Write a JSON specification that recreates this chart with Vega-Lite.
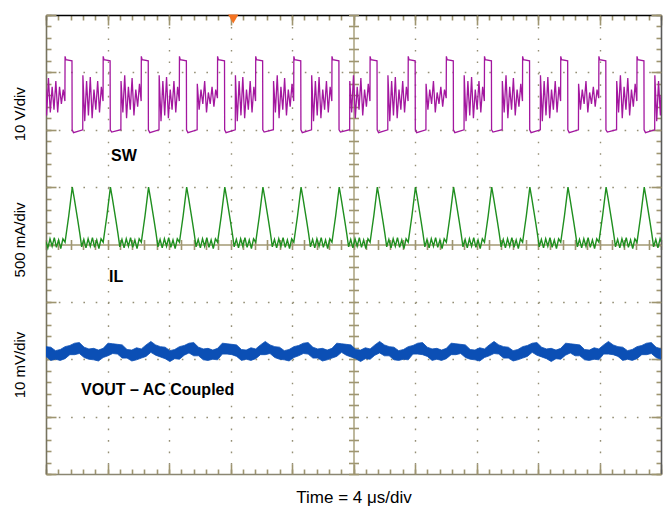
{
"$schema": "https://vega.github.io/schema/vega-lite/v6.json",
"width": 615, "height": 459,
"autosize": "none",
"padding": {"left": 46, "top": 15, "right": 5, "bottom": 38},
"background": "white",
"config": {"view": {"stroke": null}, "font": "Liberation Sans"},
"datasets": {
"sw": [
{"t":0,"v":6.7},{"t":0.04,"v":6.25},{"t":0.16,"v":6.9},{"t":0.28,"v":6.3},{"t":0.40,"v":6.75},{"t":0.52,"v":6.35},{"t":0.64,"v":6.85},{"t":0.76,"v":6.3},{"t":0.88,"v":6.75},{"t":1.00,"v":6.45},{"t":1.12,"v":6.7},{"t":1.23,"v":6.5},
{"t":1.24,"v":7.28},{"t":1.29,"v":7.22},{"t":1.69,"v":7.2},{"t":1.70,"v":6.0},{"t":1.79,"v":5.95},{"t":2.39,"v":6.0},{"t":2.40,"v":6.95},{"t":2.52,"v":6.15},{"t":2.64,"v":6.85},{"t":2.76,"v":6.25},{"t":2.88,"v":6.92},{"t":3.00,"v":6.2},{"t":3.12,"v":6.7},{"t":3.24,"v":6.35},{"t":3.36,"v":6.85},{"t":3.48,"v":6.3},{"t":3.60,"v":6.75},{"t":3.71,"v":6.5},
{"t":3.72,"v":7.28},{"t":3.77,"v":7.22},{"t":4.17,"v":7.2},{"t":4.18,"v":6.0},{"t":4.27,"v":5.96},{"t":4.87,"v":6.0},{"t":4.88,"v":6.85},{"t":5.00,"v":6.3},{"t":5.12,"v":6.95},{"t":5.24,"v":6.2},{"t":5.36,"v":6.75},{"t":5.48,"v":6.35},{"t":5.60,"v":6.9},{"t":5.72,"v":6.25},{"t":5.84,"v":6.7},{"t":5.96,"v":6.4},{"t":6.08,"v":6.8},{"t":6.19,"v":6.5},
{"t":6.20,"v":7.28},{"t":6.25,"v":7.22},{"t":6.65,"v":7.2},{"t":6.66,"v":6.0},{"t":6.75,"v":5.95},{"t":7.35,"v":6.0},{"t":7.36,"v":6.95},{"t":7.48,"v":6.15},{"t":7.60,"v":6.85},{"t":7.72,"v":6.25},{"t":7.84,"v":6.92},{"t":7.96,"v":6.2},{"t":8.08,"v":6.7},{"t":8.20,"v":6.35},{"t":8.32,"v":6.85},{"t":8.44,"v":6.3},{"t":8.56,"v":6.75},{"t":8.67,"v":6.5},
{"t":8.68,"v":7.28},{"t":8.73,"v":7.22},{"t":9.13,"v":7.2},{"t":9.14,"v":6.0},{"t":9.23,"v":5.95},{"t":9.83,"v":6.0},{"t":9.84,"v":6.8},{"t":9.96,"v":6.35},{"t":10.08,"v":6.7},{"t":10.20,"v":6.45},{"t":10.32,"v":6.85},{"t":10.44,"v":6.3},{"t":10.56,"v":6.65},{"t":10.68,"v":6.45},{"t":10.80,"v":6.75},{"t":10.92,"v":6.4},{"t":11.04,"v":6.7},{"t":11.15,"v":6.55},
{"t":11.16,"v":7.28},{"t":11.21,"v":7.22},{"t":11.61,"v":7.2},{"t":11.62,"v":6.0},{"t":11.71,"v":5.95},{"t":12.31,"v":6.0},{"t":12.32,"v":6.95},{"t":12.44,"v":6.15},{"t":12.56,"v":6.85},{"t":12.68,"v":6.25},{"t":12.80,"v":6.92},{"t":12.92,"v":6.2},{"t":13.04,"v":6.7},{"t":13.16,"v":6.35},{"t":13.28,"v":6.85},{"t":13.40,"v":6.3},{"t":13.52,"v":6.75},{"t":13.63,"v":6.5},
{"t":13.64,"v":7.28},{"t":13.69,"v":7.22},{"t":14.09,"v":7.2},{"t":14.10,"v":6.0},{"t":14.19,"v":5.96},{"t":14.79,"v":6.0},{"t":14.80,"v":6.85},{"t":14.92,"v":6.3},{"t":15.04,"v":6.95},{"t":15.16,"v":6.2},{"t":15.28,"v":6.75},{"t":15.40,"v":6.35},{"t":15.52,"v":6.9},{"t":15.64,"v":6.25},{"t":15.76,"v":6.7},{"t":15.88,"v":6.4},{"t":16.00,"v":6.8},{"t":16.11,"v":6.5},
{"t":16.12,"v":7.28},{"t":16.17,"v":7.22},{"t":16.57,"v":7.2},{"t":16.58,"v":6.0},{"t":16.67,"v":5.95},{"t":17.27,"v":6.0},{"t":17.28,"v":6.95},{"t":17.40,"v":6.15},{"t":17.52,"v":6.85},{"t":17.64,"v":6.25},{"t":17.76,"v":6.92},{"t":17.88,"v":6.2},{"t":18.00,"v":6.7},{"t":18.12,"v":6.35},{"t":18.24,"v":6.85},{"t":18.36,"v":6.3},{"t":18.48,"v":6.75},{"t":18.59,"v":6.5},
{"t":18.60,"v":7.28},{"t":18.65,"v":7.22},{"t":19.05,"v":7.2},{"t":19.06,"v":6.0},{"t":19.15,"v":5.96},{"t":19.75,"v":6.0},{"t":19.76,"v":6.85},{"t":19.88,"v":6.3},{"t":20.00,"v":6.95},{"t":20.12,"v":6.2},{"t":20.24,"v":6.75},{"t":20.36,"v":6.35},{"t":20.48,"v":6.9},{"t":20.60,"v":6.25},{"t":20.72,"v":6.7},{"t":20.84,"v":6.4},{"t":20.96,"v":6.8},{"t":21.07,"v":6.5},
{"t":21.08,"v":7.28},{"t":21.13,"v":7.22},{"t":21.53,"v":7.2},{"t":21.54,"v":6.0},{"t":21.63,"v":5.95},{"t":22.23,"v":6.0},{"t":22.24,"v":6.95},{"t":22.36,"v":6.15},{"t":22.48,"v":6.85},{"t":22.60,"v":6.25},{"t":22.72,"v":6.92},{"t":22.84,"v":6.2},{"t":22.96,"v":6.7},{"t":23.08,"v":6.35},{"t":23.20,"v":6.85},{"t":23.32,"v":6.3},{"t":23.44,"v":6.75},{"t":23.55,"v":6.5},
{"t":23.56,"v":7.28},{"t":23.61,"v":7.22},{"t":24.01,"v":7.2},{"t":24.02,"v":6.0},{"t":24.11,"v":5.95},{"t":24.71,"v":6.0},{"t":24.72,"v":6.8},{"t":24.84,"v":6.35},{"t":24.96,"v":6.7},{"t":25.08,"v":6.45},{"t":25.20,"v":6.85},{"t":25.32,"v":6.3},{"t":25.44,"v":6.65},{"t":25.56,"v":6.45},{"t":25.68,"v":6.75},{"t":25.80,"v":6.4},{"t":25.92,"v":6.7},{"t":26.03,"v":6.55},
{"t":26.04,"v":7.28},{"t":26.09,"v":7.22},{"t":26.49,"v":7.2},{"t":26.50,"v":6.0},{"t":26.59,"v":5.95},{"t":27.19,"v":6.0},{"t":27.20,"v":6.95},{"t":27.32,"v":6.15},{"t":27.44,"v":6.85},{"t":27.56,"v":6.25},{"t":27.68,"v":6.92},{"t":27.80,"v":6.2},{"t":27.92,"v":6.7},{"t":28.04,"v":6.35},{"t":28.16,"v":6.85},{"t":28.28,"v":6.3},{"t":28.40,"v":6.75},{"t":28.51,"v":6.5},
{"t":28.52,"v":7.28},{"t":28.57,"v":7.22},{"t":28.97,"v":7.2},{"t":28.98,"v":6.0},{"t":29.07,"v":5.96},{"t":29.67,"v":6.0},{"t":29.68,"v":6.85},{"t":29.80,"v":6.3},{"t":29.92,"v":6.95},{"t":30.04,"v":6.2},{"t":30.16,"v":6.75},{"t":30.28,"v":6.35},{"t":30.40,"v":6.9},{"t":30.52,"v":6.25},{"t":30.64,"v":6.7},{"t":30.76,"v":6.4},{"t":30.88,"v":6.8},{"t":30.99,"v":6.5},
{"t":31.00,"v":7.28},{"t":31.05,"v":7.22},{"t":31.45,"v":7.2},{"t":31.46,"v":6.0},{"t":31.55,"v":5.95},{"t":32.15,"v":6.0},{"t":32.16,"v":6.95},{"t":32.28,"v":6.15},{"t":32.40,"v":6.85},{"t":32.52,"v":6.25},{"t":32.64,"v":6.92},{"t":32.76,"v":6.2},{"t":32.88,"v":6.7},{"t":33.00,"v":6.35},{"t":33.12,"v":6.85},{"t":33.24,"v":6.3},{"t":33.36,"v":6.75},{"t":33.47,"v":6.5},
{"t":33.48,"v":7.28},{"t":33.53,"v":7.22},{"t":33.93,"v":7.2},{"t":33.94,"v":6.0},{"t":34.03,"v":5.95},{"t":34.63,"v":6.0},{"t":34.64,"v":6.8},{"t":34.76,"v":6.35},{"t":34.88,"v":6.7},{"t":35.00,"v":6.45},{"t":35.12,"v":6.85},{"t":35.24,"v":6.3},{"t":35.36,"v":6.65},{"t":35.48,"v":6.45},{"t":35.60,"v":6.75},{"t":35.72,"v":6.4},{"t":35.84,"v":6.7},{"t":35.95,"v":6.55},
{"t":35.96,"v":7.28},{"t":36.01,"v":7.22},{"t":36.41,"v":7.2},{"t":36.42,"v":6.0},{"t":36.51,"v":5.96},{"t":37.11,"v":6.0},{"t":37.12,"v":6.85},{"t":37.24,"v":6.3},{"t":37.36,"v":6.95},{"t":37.48,"v":6.2},{"t":37.60,"v":6.75},{"t":37.72,"v":6.35},{"t":37.84,"v":6.9},{"t":37.96,"v":6.25},{"t":38.08,"v":6.7},{"t":38.20,"v":6.4},{"t":38.32,"v":6.8},{"t":38.43,"v":6.5},
{"t":38.44,"v":7.28},{"t":38.49,"v":7.22},{"t":38.89,"v":7.2},{"t":38.90,"v":6.0},{"t":38.99,"v":5.95},{"t":39.59,"v":6.0},{"t":39.60,"v":6.95},{"t":39.72,"v":6.15},{"t":39.84,"v":6.85},{"t":39.96,"v":6.25},{"t":40.00,"v":6.6}
],
"il": [
{"t":0,"v":4.05},{"t":0.12,"v":3.94},{"t":0.26,"v":4.10},{"t":0.40,"v":3.97},{"t":0.54,"v":4.12},{"t":0.68,"v":3.95},{"t":0.82,"v":4.08},{"t":0.96,"v":3.93},{"t":1.10,"v":4.10},
{"t":1.24,"v":4.04},{"t":1.36,"v":4.27},{"t":1.48,"v":4.50},{"t":1.60,"v":4.76},{"t":1.71,"v":5.00},{"t":1.84,"v":4.80},{"t":1.96,"v":4.60},{"t":2.08,"v":4.40},{"t":2.20,"v":4.19},{"t":2.32,"v":3.96},{"t":2.46,"v":4.09},{"t":2.60,"v":3.94},{"t":2.74,"v":4.10},{"t":2.88,"v":3.97},{"t":3.02,"v":4.12},{"t":3.16,"v":3.95},{"t":3.30,"v":4.08},{"t":3.44,"v":3.93},{"t":3.58,"v":4.10},
{"t":3.72,"v":4.04},{"t":3.84,"v":4.27},{"t":3.96,"v":4.50},{"t":4.08,"v":4.76},{"t":4.19,"v":5.00},{"t":4.32,"v":4.80},{"t":4.44,"v":4.60},{"t":4.56,"v":4.40},{"t":4.68,"v":4.19},{"t":4.80,"v":3.96},{"t":4.94,"v":4.09},{"t":5.08,"v":3.94},{"t":5.22,"v":4.10},{"t":5.36,"v":3.97},{"t":5.50,"v":4.12},{"t":5.64,"v":3.95},{"t":5.78,"v":4.08},{"t":5.92,"v":3.93},{"t":6.06,"v":4.10},
{"t":6.20,"v":4.04},{"t":6.32,"v":4.27},{"t":6.44,"v":4.50},{"t":6.56,"v":4.76},{"t":6.67,"v":5.00},{"t":6.80,"v":4.80},{"t":6.92,"v":4.60},{"t":7.04,"v":4.40},{"t":7.16,"v":4.19},{"t":7.28,"v":3.96},{"t":7.42,"v":4.09},{"t":7.56,"v":3.94},{"t":7.70,"v":4.10},{"t":7.84,"v":3.97},{"t":7.98,"v":4.12},{"t":8.12,"v":3.95},{"t":8.26,"v":4.08},{"t":8.40,"v":3.93},{"t":8.54,"v":4.10},
{"t":8.68,"v":4.04},{"t":8.80,"v":4.27},{"t":8.92,"v":4.50},{"t":9.04,"v":4.76},{"t":9.15,"v":5.00},{"t":9.28,"v":4.80},{"t":9.40,"v":4.60},{"t":9.52,"v":4.40},{"t":9.64,"v":4.19},{"t":9.76,"v":3.96},{"t":9.90,"v":4.09},{"t":10.04,"v":3.94},{"t":10.18,"v":4.10},{"t":10.32,"v":3.97},{"t":10.46,"v":4.12},{"t":10.60,"v":3.95},{"t":10.74,"v":4.08},{"t":10.88,"v":3.93},{"t":11.02,"v":4.10},
{"t":11.16,"v":4.04},{"t":11.28,"v":4.27},{"t":11.40,"v":4.50},{"t":11.52,"v":4.76},{"t":11.63,"v":5.00},{"t":11.76,"v":4.80},{"t":11.88,"v":4.60},{"t":12.00,"v":4.40},{"t":12.12,"v":4.19},{"t":12.24,"v":3.96},{"t":12.38,"v":4.09},{"t":12.52,"v":3.94},{"t":12.66,"v":4.10},{"t":12.80,"v":3.97},{"t":12.94,"v":4.12},{"t":13.08,"v":3.95},{"t":13.22,"v":4.08},{"t":13.36,"v":3.93},{"t":13.50,"v":4.10},
{"t":13.64,"v":4.04},{"t":13.76,"v":4.27},{"t":13.88,"v":4.50},{"t":14.00,"v":4.76},{"t":14.11,"v":5.00},{"t":14.24,"v":4.80},{"t":14.36,"v":4.60},{"t":14.48,"v":4.40},{"t":14.60,"v":4.19},{"t":14.72,"v":3.96},{"t":14.86,"v":4.09},{"t":15.00,"v":3.94},{"t":15.14,"v":4.10},{"t":15.28,"v":3.97},{"t":15.42,"v":4.12},{"t":15.56,"v":3.95},{"t":15.70,"v":4.08},{"t":15.84,"v":3.93},{"t":15.98,"v":4.10},
{"t":16.12,"v":4.04},{"t":16.24,"v":4.27},{"t":16.36,"v":4.50},{"t":16.48,"v":4.76},{"t":16.59,"v":5.00},{"t":16.72,"v":4.80},{"t":16.84,"v":4.60},{"t":16.96,"v":4.40},{"t":17.08,"v":4.19},{"t":17.20,"v":3.96},{"t":17.34,"v":4.09},{"t":17.48,"v":3.94},{"t":17.62,"v":4.10},{"t":17.76,"v":3.97},{"t":17.90,"v":4.12},{"t":18.04,"v":3.95},{"t":18.18,"v":4.08},{"t":18.32,"v":3.93},{"t":18.46,"v":4.10},
{"t":18.60,"v":4.04},{"t":18.72,"v":4.27},{"t":18.84,"v":4.50},{"t":18.96,"v":4.76},{"t":19.07,"v":5.00},{"t":19.20,"v":4.80},{"t":19.32,"v":4.60},{"t":19.44,"v":4.40},{"t":19.56,"v":4.19},{"t":19.68,"v":3.96},{"t":19.82,"v":4.09},{"t":19.96,"v":3.94},{"t":20.10,"v":4.10},{"t":20.24,"v":3.97},{"t":20.38,"v":4.12},{"t":20.52,"v":3.95},{"t":20.66,"v":4.08},{"t":20.80,"v":3.93},{"t":20.94,"v":4.10},
{"t":21.08,"v":4.04},{"t":21.20,"v":4.27},{"t":21.32,"v":4.50},{"t":21.44,"v":4.76},{"t":21.55,"v":5.00},{"t":21.68,"v":4.80},{"t":21.80,"v":4.60},{"t":21.92,"v":4.40},{"t":22.04,"v":4.19},{"t":22.16,"v":3.96},{"t":22.30,"v":4.09},{"t":22.44,"v":3.94},{"t":22.58,"v":4.10},{"t":22.72,"v":3.97},{"t":22.86,"v":4.12},{"t":23.00,"v":3.95},{"t":23.14,"v":4.08},{"t":23.28,"v":3.93},{"t":23.42,"v":4.10},
{"t":23.56,"v":4.04},{"t":23.68,"v":4.27},{"t":23.80,"v":4.50},{"t":23.92,"v":4.76},{"t":24.03,"v":5.00},{"t":24.16,"v":4.80},{"t":24.28,"v":4.60},{"t":24.40,"v":4.40},{"t":24.52,"v":4.19},{"t":24.64,"v":3.96},{"t":24.78,"v":4.09},{"t":24.92,"v":3.94},{"t":25.06,"v":4.10},{"t":25.20,"v":3.97},{"t":25.34,"v":4.12},{"t":25.48,"v":3.95},{"t":25.62,"v":4.08},{"t":25.76,"v":3.93},{"t":25.90,"v":4.10},
{"t":26.04,"v":4.04},{"t":26.16,"v":4.27},{"t":26.28,"v":4.50},{"t":26.40,"v":4.76},{"t":26.51,"v":5.00},{"t":26.64,"v":4.80},{"t":26.76,"v":4.60},{"t":26.88,"v":4.40},{"t":27.00,"v":4.19},{"t":27.12,"v":3.96},{"t":27.26,"v":4.09},{"t":27.40,"v":3.94},{"t":27.54,"v":4.10},{"t":27.68,"v":3.97},{"t":27.82,"v":4.12},{"t":27.96,"v":3.95},{"t":28.10,"v":4.08},{"t":28.24,"v":3.93},{"t":28.38,"v":4.10},
{"t":28.52,"v":4.04},{"t":28.64,"v":4.27},{"t":28.76,"v":4.50},{"t":28.88,"v":4.76},{"t":28.99,"v":5.00},{"t":29.12,"v":4.80},{"t":29.24,"v":4.60},{"t":29.36,"v":4.40},{"t":29.48,"v":4.19},{"t":29.60,"v":3.96},{"t":29.74,"v":4.09},{"t":29.88,"v":3.94},{"t":30.02,"v":4.10},{"t":30.16,"v":3.97},{"t":30.30,"v":4.12},{"t":30.44,"v":3.95},{"t":30.58,"v":4.08},{"t":30.72,"v":3.93},{"t":30.86,"v":4.10},
{"t":31.00,"v":4.04},{"t":31.12,"v":4.27},{"t":31.24,"v":4.50},{"t":31.36,"v":4.76},{"t":31.47,"v":5.00},{"t":31.60,"v":4.80},{"t":31.72,"v":4.60},{"t":31.84,"v":4.40},{"t":31.96,"v":4.19},{"t":32.08,"v":3.96},{"t":32.22,"v":4.09},{"t":32.36,"v":3.94},{"t":32.50,"v":4.10},{"t":32.64,"v":3.97},{"t":32.78,"v":4.12},{"t":32.92,"v":3.95},{"t":33.06,"v":4.08},{"t":33.20,"v":3.93},{"t":33.34,"v":4.10},
{"t":33.48,"v":4.04},{"t":33.60,"v":4.27},{"t":33.72,"v":4.50},{"t":33.84,"v":4.76},{"t":33.95,"v":5.00},{"t":34.08,"v":4.80},{"t":34.20,"v":4.60},{"t":34.32,"v":4.40},{"t":34.44,"v":4.19},{"t":34.56,"v":3.96},{"t":34.70,"v":4.09},{"t":34.84,"v":3.94},{"t":34.98,"v":4.10},{"t":35.12,"v":3.97},{"t":35.26,"v":4.12},{"t":35.40,"v":3.95},{"t":35.54,"v":4.08},{"t":35.68,"v":3.93},{"t":35.82,"v":4.10},
{"t":35.96,"v":4.04},{"t":36.08,"v":4.27},{"t":36.20,"v":4.50},{"t":36.32,"v":4.76},{"t":36.43,"v":5.00},{"t":36.56,"v":4.80},{"t":36.68,"v":4.60},{"t":36.80,"v":4.40},{"t":36.92,"v":4.19},{"t":37.04,"v":3.96},{"t":37.18,"v":4.09},{"t":37.32,"v":3.94},{"t":37.46,"v":4.10},{"t":37.60,"v":3.97},{"t":37.74,"v":4.12},{"t":37.88,"v":3.95},{"t":38.02,"v":4.08},{"t":38.16,"v":3.93},{"t":38.30,"v":4.10},
{"t":38.44,"v":4.04},{"t":38.56,"v":4.27},{"t":38.68,"v":4.50},{"t":38.80,"v":4.76},{"t":38.91,"v":5.00},{"t":39.04,"v":4.80},{"t":39.16,"v":4.60},{"t":39.28,"v":4.40},{"t":39.40,"v":4.19},{"t":39.52,"v":3.96},{"t":39.66,"v":4.09},{"t":39.80,"v":3.94},{"t":39.94,"v":4.10},{"t":40.00,"v":4.05}
],
"vout": [
{"t":0.00,"lo":2.05,"hi":2.22},{"t":0.31,"lo":1.98,"hi":2.21},{"t":0.62,"lo":2.00,"hi":2.15},{"t":0.93,"lo":1.98,"hi":2.17},{"t":1.24,"lo":2.01,"hi":2.22},{"t":1.55,"lo":2.08,"hi":2.24},{"t":1.86,"lo":2.08,"hi":2.28},{"t":2.17,"lo":2.10,"hi":2.29},
{"t":2.48,"lo":2.03,"hi":2.21},{"t":2.79,"lo":2.00,"hi":2.18},{"t":3.10,"lo":1.99,"hi":2.19},{"t":3.41,"lo":1.97,"hi":2.16},{"t":3.72,"lo":2.03,"hi":2.19},{"t":4.03,"lo":2.06,"hi":2.28},{"t":4.34,"lo":2.10,"hi":2.27},{"t":4.65,"lo":2.09,"hi":2.26},
{"t":4.96,"lo":2.02,"hi":2.25},{"t":5.27,"lo":2.02,"hi":2.17},{"t":5.58,"lo":1.97,"hi":2.16},{"t":5.89,"lo":1.99,"hi":2.20},{"t":6.20,"lo":2.02,"hi":2.18},{"t":6.51,"lo":2.05,"hi":2.25},{"t":6.82,"lo":2.12,"hi":2.31},{"t":7.13,"lo":2.07,"hi":2.25},
{"t":7.44,"lo":2.04,"hi":2.22},{"t":7.75,"lo":2.01,"hi":2.21},{"t":8.06,"lo":1.96,"hi":2.15},{"t":8.37,"lo":2.01,"hi":2.17},{"t":8.68,"lo":2.00,"hi":2.22},{"t":8.99,"lo":2.07,"hi":2.24},{"t":9.30,"lo":2.11,"hi":2.28},{"t":9.61,"lo":2.06,"hi":2.29},
{"t":9.92,"lo":2.06,"hi":2.21},{"t":10.23,"lo":1.99,"hi":2.18},{"t":10.54,"lo":1.98,"hi":2.19},{"t":10.85,"lo":2.00,"hi":2.16},{"t":11.16,"lo":1.99,"hi":2.19},{"t":11.47,"lo":2.09,"hi":2.28},{"t":11.78,"lo":2.09,"hi":2.27},{"t":12.09,"lo":2.08,"hi":2.26},
{"t":12.40,"lo":2.05,"hi":2.25},{"t":12.71,"lo":1.98,"hi":2.17},{"t":13.02,"lo":2.00,"hi":2.16},{"t":13.33,"lo":1.98,"hi":2.20},{"t":13.64,"lo":2.01,"hi":2.18},{"t":13.95,"lo":2.08,"hi":2.25},{"t":14.26,"lo":2.08,"hi":2.31},{"t":14.57,"lo":2.10,"hi":2.25},
{"t":14.88,"lo":2.03,"hi":2.22},{"t":15.19,"lo":2.00,"hi":2.21},{"t":15.50,"lo":1.99,"hi":2.15},{"t":15.81,"lo":1.97,"hi":2.17},{"t":16.12,"lo":2.03,"hi":2.22},{"t":16.43,"lo":2.06,"hi":2.24},{"t":16.74,"lo":2.10,"hi":2.28},{"t":17.05,"lo":2.09,"hi":2.29},
{"t":17.36,"lo":2.02,"hi":2.21},{"t":17.67,"lo":2.02,"hi":2.18},{"t":17.98,"lo":1.97,"hi":2.19},{"t":18.29,"lo":1.99,"hi":2.16},{"t":18.60,"lo":2.02,"hi":2.19},{"t":18.91,"lo":2.05,"hi":2.28},{"t":19.22,"lo":2.12,"hi":2.27},{"t":19.53,"lo":2.07,"hi":2.26},
{"t":19.84,"lo":2.04,"hi":2.25},{"t":20.15,"lo":2.01,"hi":2.17},{"t":20.46,"lo":1.96,"hi":2.16},{"t":20.77,"lo":2.01,"hi":2.20},{"t":21.08,"lo":2.00,"hi":2.18},{"t":21.39,"lo":2.07,"hi":2.25},{"t":21.70,"lo":2.11,"hi":2.31},{"t":22.01,"lo":2.06,"hi":2.25},
{"t":22.32,"lo":2.06,"hi":2.22},{"t":22.63,"lo":1.99,"hi":2.21},{"t":22.94,"lo":1.98,"hi":2.15},{"t":23.25,"lo":2.00,"hi":2.17},{"t":23.56,"lo":1.99,"hi":2.22},{"t":23.87,"lo":2.09,"hi":2.24},{"t":24.18,"lo":2.09,"hi":2.28},{"t":24.49,"lo":2.08,"hi":2.29},
{"t":24.80,"lo":2.05,"hi":2.21},{"t":25.11,"lo":1.98,"hi":2.18},{"t":25.42,"lo":2.00,"hi":2.19},{"t":25.73,"lo":1.98,"hi":2.16},{"t":26.04,"lo":2.01,"hi":2.19},{"t":26.35,"lo":2.08,"hi":2.28},{"t":26.66,"lo":2.08,"hi":2.27},{"t":26.97,"lo":2.10,"hi":2.26},
{"t":27.28,"lo":2.03,"hi":2.25},{"t":27.59,"lo":2.00,"hi":2.17},{"t":27.90,"lo":1.99,"hi":2.16},{"t":28.21,"lo":1.97,"hi":2.20},{"t":28.52,"lo":2.03,"hi":2.18},{"t":28.83,"lo":2.06,"hi":2.25},{"t":29.14,"lo":2.10,"hi":2.31},{"t":29.45,"lo":2.09,"hi":2.25},
{"t":29.76,"lo":2.02,"hi":2.22},{"t":30.07,"lo":2.02,"hi":2.21},{"t":30.38,"lo":1.97,"hi":2.15},{"t":30.69,"lo":1.99,"hi":2.17},{"t":31.00,"lo":2.02,"hi":2.22},{"t":31.31,"lo":2.05,"hi":2.24},{"t":31.62,"lo":2.12,"hi":2.28},{"t":31.93,"lo":2.07,"hi":2.29},
{"t":32.24,"lo":2.04,"hi":2.21},{"t":32.55,"lo":2.01,"hi":2.18},{"t":32.86,"lo":1.96,"hi":2.19},{"t":33.17,"lo":2.01,"hi":2.16},{"t":33.48,"lo":2.00,"hi":2.19},{"t":33.79,"lo":2.07,"hi":2.28},{"t":34.10,"lo":2.11,"hi":2.27},{"t":34.41,"lo":2.06,"hi":2.26},
{"t":34.72,"lo":2.06,"hi":2.25},{"t":35.03,"lo":1.99,"hi":2.17},{"t":35.34,"lo":1.98,"hi":2.16},{"t":35.65,"lo":2.00,"hi":2.20},{"t":35.96,"lo":1.99,"hi":2.18},{"t":36.27,"lo":2.09,"hi":2.25},{"t":36.58,"lo":2.09,"hi":2.31},{"t":36.89,"lo":2.08,"hi":2.25},
{"t":37.20,"lo":2.05,"hi":2.22},{"t":37.51,"lo":1.98,"hi":2.21},{"t":37.82,"lo":2.00,"hi":2.15},{"t":38.13,"lo":1.98,"hi":2.17},{"t":38.44,"lo":2.01,"hi":2.22},{"t":38.75,"lo":2.08,"hi":2.24},{"t":39.06,"lo":2.08,"hi":2.28},{"t":39.37,"lo":2.10,"hi":2.29},
{"t":39.68,"lo":2.03,"hi":2.21},{"t":39.99,"lo":2.00,"hi":2.18}
],
"chan": [
{"t":4.23,"v":5.54,"label":"SW"},
{"t":4.10,"v":3.43,"label":"IL"},
{"t":2.28,"v":1.46,"label":"VOUT – AC Coupled"}
],
"scalelab": [
{"t":-1.66,"v":6.27,"label":"10 V/div"},
{"t":-1.66,"v":4.08,"label":"500 mA/div"},
{"t":-1.66,"v":1.90,"label":"10 mV/div"}
],
"trig": [
{"t":12.18,"v":8}
]
},
"resolve": {"axis": {"x": "independent", "y": "independent"}},
"layer": [
{
"data": {"name": "vout"},
"mark": {"type": "area", "color": "#0b4fb5", "stroke": "#0b4fb5", "strokeWidth": 0.8, "clip": true},
"encoding": {
"x": {"field": "t", "type": "quantitative", "scale": {"domain": [0, 40], "nice": false, "zero": false},
"axis": {"orient": "bottom", "ticks": false, "labels": false, "domain": false,
"grid": true, "values": [4,8,12,16,24,28,32,36], "gridDash": [1.6, 9.875], "gridColor": "#958f76", "gridWidth": 1.4,
"title": "Time = 4 μs/div", "titleFont": "Liberation Sans", "titleFontSize": 17, "titleFontWeight": "normal", "titleColor": "#000000",
"titleX": 307.5, "titleY": 28, "titleAlign": "center", "titleBaseline": "alphabetic"}},
"y": {"field": "lo", "type": "quantitative", "scale": {"domain": [0, 8], "nice": false, "zero": false},
"axis": {"orient": "left", "ticks": false, "labels": false, "domain": false,
"grid": true, "values": [1,2,3,5,6,7], "gridDash": [1.6, 10.7], "gridColor": "#958f76", "gridWidth": 1.4, "title": null}},
"y2": {"field": "hi"}
}
},
{
"data": {"name": "il"},
"mark": {"type": "line", "color": "#1f8f1f", "strokeWidth": 1.4, "clip": true},
"encoding": {
"x": {"field": "t", "type": "quantitative", "scale": {"domain": [0, 40], "nice": false, "zero": false},
"axis": {"orient": "top", "offset": -459, "values": [0,0.8,1.6,2.4,3.2,4,4.8,5.6,6.4,7.2,8,8.8,9.6,10.4,11.2,12,12.8,13.6,14.4,15.2,16,16.8,17.6,18.4,19.2,20,20.8,21.6,22.4,23.2,24,24.8,25.6,26.4,27.2,28,28.8,29.6,30.4,31.2,32,32.8,33.6,34.4,35.2,36,36.8,37.6,38.4,39.2,40],
"tickSize": 5, "tickColor": "#9e9570", "tickWidth": 1.6, "labels": false, "grid": false,
"domain": true, "domainColor": "#8a8672", "domainWidth": 1.6, "title": null}},
"y": {"field": "v", "type": "quantitative", "scale": {"domain": [0, 8], "nice": false, "zero": false},
"axis": {"orient": "right", "offset": -615, "values": [0,0.2,0.4,0.6,0.8,1,1.2,1.4,1.6,1.8,2,2.2,2.4,2.6,2.8,3,3.2,3.4,3.6,3.8,4,4.2,4.4,4.6,4.8,5,5.2,5.4,5.6,5.8,6,6.2,6.4,6.6,6.8,7,7.2,7.4,7.6,7.8,8],
"tickSize": 5, "tickColor": "#9e9570", "tickWidth": 1.6, "labels": false, "grid": false,
"domain": true, "domainColor": "#77735f", "domainWidth": 1.6, "title": null}}
}
},
{
"data": {"name": "sw"},
"mark": {"type": "line", "color": "#a3179f", "strokeWidth": 1.3, "clip": true},
"encoding": {
"x": {"field": "t", "type": "quantitative", "scale": {"domain": [0, 40], "nice": false, "zero": false},
"axis": {"orient": "top", "offset": -459, "values": [0,4,8,12,16,20,24,28,32,36,40], "tickSize": 10, "tickColor": "#9e9570", "tickWidth": 1.6,
"labels": false, "domain": false, "grid": false, "title": null}},
"y": {"field": "v", "type": "quantitative", "scale": {"domain": [0, 8], "nice": false, "zero": false},
"axis": {"orient": "right", "offset": -615, "values": [0,1,2,3,4,5,6,7,8], "tickSize": 10, "tickColor": "#9e9570", "tickWidth": 1.6,
"labels": false, "domain": false, "grid": false, "title": null}}
}
},
{
"data": {"name": "chan"},
"mark": {"type": "text", "align": "left", "baseline": "middle", "font": "Liberation Sans", "fontSize": 16, "fontWeight": "bold", "color": "#000000"},
"encoding": {
"x": {"field": "t", "type": "quantitative", "scale": {"domain": [0, 40], "nice": false, "zero": false},
"axis": {"orient": "bottom", "offset": -459, "values": [0,0.8,1.6,2.4,3.2,4,4.8,5.6,6.4,7.2,8,8.8,9.6,10.4,11.2,12,12.8,13.6,14.4,15.2,16,16.8,17.6,18.4,19.2,20,20.8,21.6,22.4,23.2,24,24.8,25.6,26.4,27.2,28,28.8,29.6,30.4,31.2,32,32.8,33.6,34.4,35.2,36,36.8,37.6,38.4,39.2,40],
"tickSize": 5, "tickColor": "#9e9570", "tickWidth": 1.6, "labels": false, "grid": false,
"domain": true, "domainColor": "#000000", "domainWidth": 1.6, "title": null}},
"y": {"field": "v", "type": "quantitative", "scale": {"domain": [0, 8], "nice": false, "zero": false},
"axis": {"orient": "left", "offset": -615, "values": [0,0.2,0.4,0.6,0.8,1,1.2,1.4,1.6,1.8,2,2.2,2.4,2.6,2.8,3,3.2,3.4,3.6,3.8,4,4.2,4.4,4.6,4.8,5,5.2,5.4,5.6,5.8,6,6.2,6.4,6.6,6.8,7,7.2,7.4,7.6,7.8,8],
"tickSize": 5, "tickColor": "#9e9570", "tickWidth": 1.6, "labels": false, "grid": false,
"domain": true, "domainColor": "#5a5a5a", "domainWidth": 1.6, "title": null}},
"text": {"field": "label"}
}
},
{
"data": {"name": "scalelab"},
"mark": {"type": "text", "align": "center", "baseline": "middle", "angle": 270, "font": "Liberation Sans", "fontSize": 15, "color": "#000000"},
"encoding": {
"x": {"field": "t", "type": "quantitative", "scale": {"domain": [0, 40], "nice": false, "zero": false},
"axis": {"orient": "bottom", "offset": -459, "values": [0,4,8,12,16,20,24,28,32,36,40], "tickSize": 10, "tickColor": "#9e9570", "tickWidth": 1.6,
"labels": false, "domain": false, "grid": false, "title": null}},
"y": {"field": "v", "type": "quantitative", "scale": {"domain": [0, 8], "nice": false, "zero": false},
"axis": {"orient": "left", "offset": -615, "values": [0,1,2,3,4,5,6,7,8], "tickSize": 10, "tickColor": "#9e9570", "tickWidth": 1.6,
"labels": false, "domain": false, "grid": false, "title": null}},
"text": {"field": "label"}
}
},
{
"data": {"name": "trig"},
"mark": {"type": "point", "shape": "triangle-down", "filled": true, "color": "#f47321", "opacity": 1, "size": 110, "yOffset": 4},
"encoding": {
"x": {"field": "t", "type": "quantitative", "scale": {"domain": [0, 40], "nice": false, "zero": false},
"axis": {"orient": "bottom", "offset": -229.5, "values": [0,0.8,1.6,2.4,3.2,4,4.8,5.6,6.4,7.2,8,8.8,9.6,10.4,11.2,12,12.8,13.6,14.4,15.2,16,16.8,17.6,18.4,19.2,20,20.8,21.6,22.4,23.2,24,24.8,25.6,26.4,27.2,28,28.8,29.6,30.4,31.2,32,32.8,33.6,34.4,35.2,36,36.8,37.6,38.4,39.2,40],
"tickSize": 5, "tickColor": "#9e9570", "tickWidth": 1.6, "labels": false, "grid": false,
"domain": true, "domainColor": "#a39a74", "domainWidth": 1.4, "title": null}},
"y": {"field": "v", "type": "quantitative", "scale": {"domain": [0, 8], "nice": false, "zero": false},
"axis": {"orient": "left", "offset": -307.5, "values": [0,0.2,0.4,0.6,0.8,1,1.2,1.4,1.6,1.8,2,2.2,2.4,2.6,2.8,3,3.2,3.4,3.6,3.8,4,4.2,4.4,4.6,4.8,5,5.2,5.4,5.6,5.8,6,6.2,6.4,6.6,6.8,7,7.2,7.4,7.6,7.8,8],
"tickSize": 5, "tickColor": "#9e9570", "tickWidth": 1.6, "labels": false, "grid": false,
"domain": true, "domainColor": "#a39a74", "domainWidth": 1.4, "title": null}}
}
},
{
"mark": {"type": "rule", "color": "#a3179f", "strokeWidth": 1.3},
"encoding": {
"x": {"datum": 39.25, "type": "quantitative", "scale": {"domain": [0, 40], "nice": false, "zero": false},
"axis": {"orient": "top", "offset": -229.5, "values": [0,0.8,1.6,2.4,3.2,4,4.8,5.6,6.4,7.2,8,8.8,9.6,10.4,11.2,12,12.8,13.6,14.4,15.2,16,16.8,17.6,18.4,19.2,20,20.8,21.6,22.4,23.2,24,24.8,25.6,26.4,27.2,28,28.8,29.6,30.4,31.2,32,32.8,33.6,34.4,35.2,36,36.8,37.6,38.4,39.2,40],
"tickSize": 5, "tickColor": "#9e9570", "tickWidth": 1.6, "labels": false, "grid": false, "domain": false, "title": null}},
"x2": {"datum": 40},
"y": {"datum": 6.68, "type": "quantitative", "scale": {"domain": [0, 8], "nice": false, "zero": false},
"axis": {"orient": "right", "offset": -307.5, "values": [0,0.2,0.4,0.6,0.8,1,1.2,1.4,1.6,1.8,2,2.2,2.4,2.6,2.8,3,3.2,3.4,3.6,3.8,4,4.2,4.4,4.6,4.8,5,5.2,5.4,5.6,5.8,6,6.2,6.4,6.6,6.8,7,7.2,7.4,7.6,7.8,8],
"tickSize": 5, "tickColor": "#9e9570", "tickWidth": 1.6, "labels": false, "grid": false, "domain": false, "title": null}}
}
},
{
"mark": {"type": "point", "shape": "triangle-left", "filled": true, "color": "#a3179f", "opacity": 1, "size": 35},
"encoding": {
"x": {"datum": 39.25, "type": "quantitative", "axis": null},
"y": {"datum": 6.68, "type": "quantitative", "axis": null}
}
},
{
"mark": {"type": "rule", "color": "#000000", "strokeWidth": 1.3},
"encoding": {
"x": {"datum": -2.99, "type": "quantitative", "axis": null},
"x2": {"datum": 40},
"y": {"datum": 8.157, "type": "quantitative", "axis": null}
}
}
]
}
